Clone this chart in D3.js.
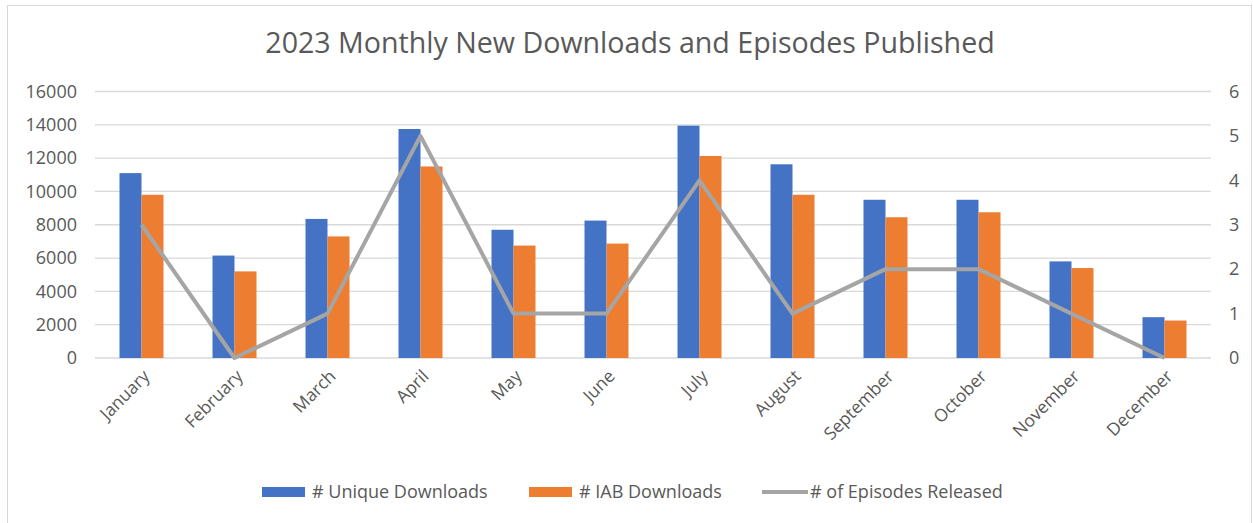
<html>
<meta charset="utf-8" />
<head>
<title>2023 Monthly New Downloads and Episodes Published</title>
<style>
body { margin: 0; background: #fff; }
svg text { font-family: "Open Sans", sans-serif; fill: #595959; }
</style>
<script src="https://cdn.jsdelivr.net/npm/d3@7"></script>
</head>
<body>
<svg class="chart"></svg>
<script>
var chartWidth = 1253;
var chartHeight = 523;

// data
var months = ["January","February","March","April","May","June","July","August","September","October","November","December"];
var uniqueDownloads = [11100, 6150, 8350, 13750, 7700, 8250, 13950, 11630, 9500, 9500, 5800, 2450];
var iabDownloads = [9800, 5200, 7300, 11500, 6750, 6870, 12130, 9800, 8450, 8750, 5400, 2250];
var episodes = [3, 0, 1, 5, 1, 1, 4, 1, 2, 2, 1, 0];
var leftTicks = [0, 2000, 4000, 6000, 8000, 10000, 12000, 14000, 16000];
var rightTicks = [0, 1, 2, 3, 4, 5, 6];
var seriesNames = ["# Unique Downloads", "# IAB Downloads", "# of Episodes Released"];
var colors = ["#4472C4", "#ED7D31", "#A5A5A5"];

var plotLeft = 95, plotRight = 1211, plotTop = 91.5, plotBottom = 358;

var svg = d3.select(".chart")
    .attr("width", chartWidth)
    .attr("height", chartHeight);

// chart border
svg.append("rect")
    .attr("x", 7.5).attr("y", 5.5)
    .attr("width", 1244).attr("height", 530)
    .attr("fill", "#fff")
    .attr("stroke", "#d9d9d9");

// scales
var x0 = d3.scaleBand()
    .domain(months)
    .range([plotLeft, plotRight])
    .paddingInner(0.527)
    .paddingOuter(0.2635);

var x1 = d3.scaleBand()
    .domain([0, 1])
    .range([0, x0.bandwidth()]);

var yL = d3.scaleLinear().domain([0, 16000]).range([plotBottom, plotTop]);
var yR = d3.scaleLinear().domain([0, 6]).range([plotBottom, plotTop]);

// gridlines
svg.append("g").selectAll("line")
    .data(leftTicks)
    .join("line")
    .attr("x1", plotLeft).attr("x2", plotRight)
    .attr("y1", function(d){ return yL(d); })
    .attr("y2", function(d){ return yL(d); })
    .attr("stroke", "#d9d9d9")
    .attr("stroke-width", 1.3);

// axes
var yAxisLeft = d3.axisLeft(yL).tickValues(leftTicks).tickFormat(d3.format("d")).tickSize(0).tickPadding(0);
var gl = svg.append("g")
    .attr("transform", "translate(77,0)")
    .call(yAxisLeft);
gl.select(".domain").remove();
gl.selectAll("text").style("font-size", "18px").attr("fill", "#595959");

var yAxisRight = d3.axisRight(yR).tickValues(rightTicks).tickFormat(d3.format("d")).tickSize(0).tickPadding(0);
var gr = svg.append("g")
    .attr("transform", "translate(1229,0)")
    .call(yAxisRight);
gr.select(".domain").remove();
gr.selectAll("text").style("font-size", "18px").attr("fill", "#595959");

var xAxis = d3.axisBottom(x0).tickSize(0).tickPadding(0);
var gx = svg.append("g")
    .attr("transform", "translate(0," + plotBottom + ")")
    .call(xAxis);
gx.select(".domain").remove();
gx.selectAll("text")
    .style("font-size", "17.5px")
    .attr("fill", "#595959")
    .attr("text-anchor", "end")
    .attr("dy", "0.35em")
    .attr("transform", "translate(5,15) rotate(-45)");

// bars
var barData = [];
months.forEach(function(m, i){
  barData.push({ month: m, s: 0, v: uniqueDownloads[i] });
  barData.push({ month: m, s: 1, v: iabDownloads[i] });
});

svg.append("g").selectAll("rect")
    .data(barData)
    .join("rect")
    .attr("x", function(d){ return x0(d.month) + x1(d.s); })
    .attr("width", x1.bandwidth())
    .attr("y", function(d){ return yL(d.v); })
    .attr("height", function(d){ return plotBottom - yL(d.v); })
    .attr("fill", function(d){ return colors[d.s]; });

// episodes line
var line = d3.line()
    .x(function(d, i){ return x0(months[i]) + x0.bandwidth() / 2; })
    .y(function(d){ return yR(d); });

svg.append("path")
    .datum(episodes)
    .attr("d", line)
    .attr("fill", "none")
    .attr("stroke", colors[2])
    .attr("stroke-width", 4)
    .attr("stroke-linejoin", "round");

// title
svg.append("text")
    .attr("x", 630)
    .attr("y", 53)
    .attr("text-anchor", "middle")
    .style("font-size", "28.6px")
    .text("2023 Monthly New Downloads and Episodes Published");

// legend
var legendX = [262, 529, 762];
var legend = svg.append("g").selectAll("g")
    .data(seriesNames)
    .join("g")
    .attr("transform", function(d, i){ return "translate(" + legendX[i] + ",492)"; });

legend.each(function(d, i){
  var g = d3.select(this);
  if (i < 2) {
    g.append("rect")
        .attr("x", 0).attr("y", -5)
        .attr("width", 43).attr("height", 10)
        .attr("fill", colors[i]);
  } else {
    g.append("line")
        .attr("x1", 0).attr("x2", 46)
        .attr("y1", 0).attr("y2", 0)
        .attr("stroke", colors[i])
        .attr("stroke-width", 4);
  }
  g.append("text")
      .attr("x", i < 2 ? 50 : 48)
      .attr("dy", "0.35em")
      .style("font-size", "18px")
      .text(d);
});
</script>
</body>
</html>
